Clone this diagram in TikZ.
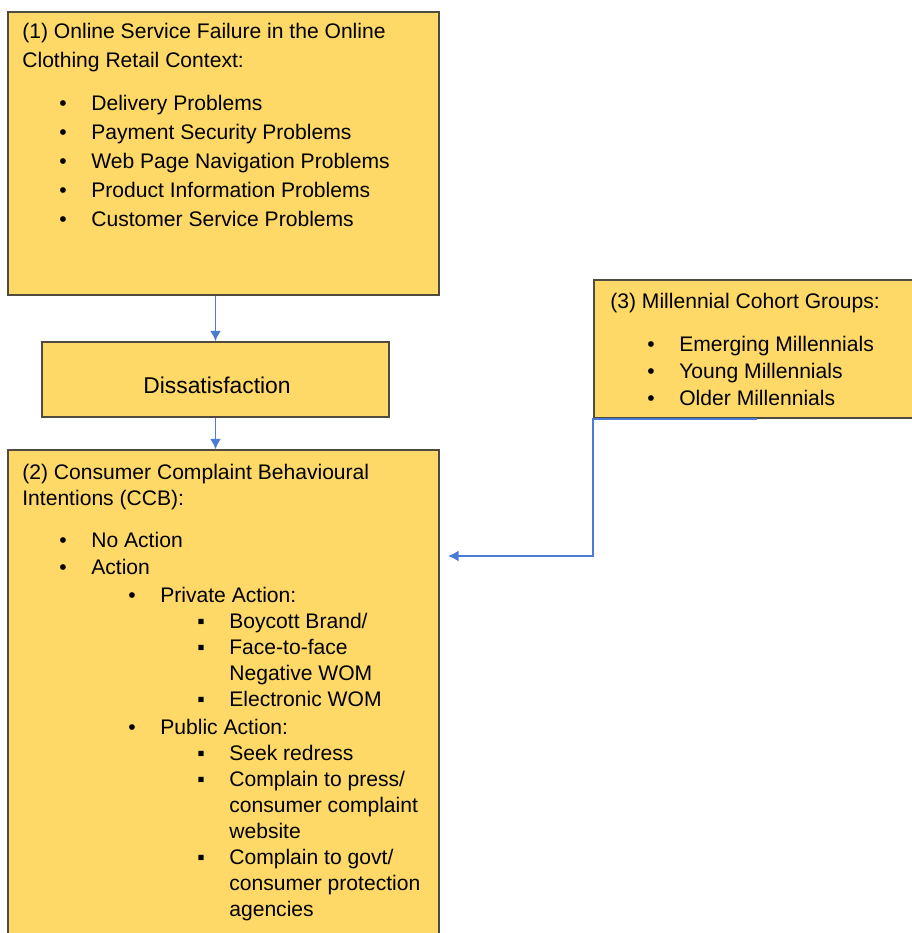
\documentclass[tikz,border=0pt]{standalone}
\usepackage{fontspec}
\setmainfont{Liberation Sans}
\usetikzlibrary{arrows.meta,positioning}

\definecolor{boxfill}{RGB}{254,217,104}
\definecolor{boxline}{RGB}{80,75,65}
\definecolor{linkblue}{RGB}{74,124,214}

\newcommand{\bul}{\makebox[0.64cm][l]{•}}
\newcommand{\sq}{\makebox[0.64cm][l]{▪}}

\begin{document}
\begin{tikzpicture}[x=0.02cm, y=-0.02cm, >={Latex[length=2.1mm,width=2.2mm]},
    box/.style={draw=boxline, fill=boxfill, line width=0.8pt, inner sep=0pt},
    txt/.style={anchor=base west, inner sep=0pt, font=\fontsize{12}{14}\selectfont},
    link/.style={->, draw=linkblue, line width=1.1pt}]
    \clip (0,0) rectangle (912,933);
    % boxes
    \node[box, minimum width=8.62cm, minimum height=5.66cm] (fail) at (223.5,153.5) {};
    \node[box, minimum width=6.94cm, minimum height=1.5cm] (dis) at (215.5,379.5) {};
    \node[box, minimum width=8.62cm, minimum height=9.9cm] (ccb) at (223.5,697.5) {};
    \node[box, minimum width=6.52cm, minimum height=2.76cm] (mil) at (757,349) {};
    \node[anchor=base, inner sep=0pt, font=\fontsize{13}{15}\selectfont] (distxt) at (217,393) {Dissatisfaction};
    % box (1)
    \node[txt] (f1) at (22,38.5) {(1) Online Service Failure in the Online};
    \node[txt] (f2) at (22,67.5) {Clothing Retail Context:};
    \node[txt] (f3) at (59,110) {\bul Delivery Problems};
    \node[txt] (f4) at (59,139) {\bul Payment Security Problems};
    \node[txt] (f5) at (59,168) {\bul Web Page Navigation Problems};
    \node[txt] (f6) at (59,197) {\bul Product Information Problems};
    \node[txt] (f7) at (59,226) {\bul Customer Service Problems};
    % box (2)
    \node[txt] (c1) at (22,479) {(2) Consumer Complaint Behavioural};
    \node[txt] (c2) at (22,505) {Intentions (CCB):};
    \node[txt] (c3) at (59,547) {\bul No Action};
    \node[txt] (c4) at (59,574) {\bul Action};
    \node[txt] (c5) at (128,602) {\bul Private Action:};
    \node[txt] (c6) at (197,628) {\sq Boycott Brand/};
    \node[txt] (c7) at (197,654) {\sq Face-to-face};
    \node[txt] (c8) at (229,680) {Negative WOM};
    \node[txt] (c9) at (197,706) {\sq Electronic WOM};
    \node[txt] (c10) at (128,734) {\bul Public Action:};
    \node[txt] (c11) at (197,760) {\sq Seek redress};
    \node[txt] (c12) at (197,786) {\sq Complain to press/};
    \node[txt] (c13) at (229,812) {consumer complaint};
    \node[txt] (c14) at (229,838) {website};
    \node[txt] (c15) at (197,864) {\sq Complain to govt/};
    \node[txt] (c16) at (229,890) {consumer protection};
    \node[txt] (c17) at (229,916) {agencies};
    % box (3)
    \node[txt] (m1) at (610,308) {(3) Millennial Cohort Groups:};
    \node[txt] (m2) at (647,351) {\bul Emerging Millennials};
    \node[txt] (m3) at (647,378) {\bul Young Millennials};
    \node[txt] (m4) at (647,405) {\bul Older Millennials};
    % connectors
    \coordinate (join) at (448,556);
    \draw[link] (dis.north |- fail.south) -- (dis.north);
    \draw[link] (dis.south) -- (dis.south |- ccb.north);
    \draw[link] (mil.south) -- (mil.south west) |- (join);
\end{tikzpicture}
\end{document}
